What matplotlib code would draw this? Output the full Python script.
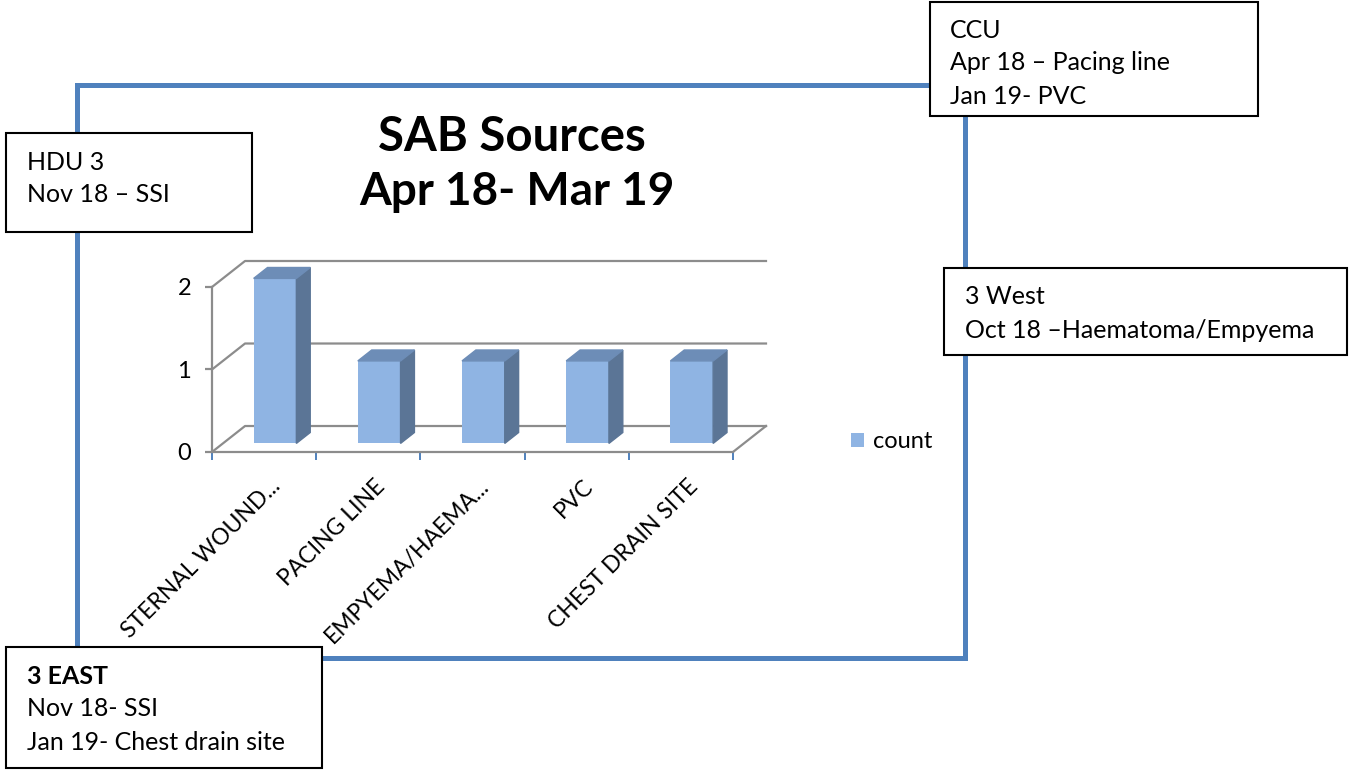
import matplotlib
matplotlib.use('Agg')
import matplotlib.pyplot as plt
from matplotlib.patches import Rectangle, Patch
from matplotlib.transforms import ScaledTranslation

# chart data
categories = ['STERNAL WOUND...', 'PACING LINE', 'EMPYEMA/HAEMA...', 'PVC', 'CHEST DRAIN SITE']
counts = [2, 1, 1, 1, 1]
y_ticks = [0, 1, 2]
series_name = 'count'
title_lines = ['SAB Sources', 'Apr 18- Mar 19']

# call-out boxes
notes_hdu = ['HDU 3', 'Nov 18 – SSI']
notes_ccu = ['CCU', 'Apr 18 – Pacing line', 'Jan 19- PVC']
notes_west = ['3 West', 'Oct 18 –Haematoma/Empyema']
notes_east = ['3 EAST', 'Nov 18- SSI', 'Jan 19- Chest drain site']

plt.rcParams['font.family'] = ['Lato', 'DejaVu Sans']

W, H = 1351, 772
FRONT, TOP, SIDE = '#8FB4E3', '#6D8DB7', '#5B7596'
GRID = '#8C8C8C'
BLUE = '#4F81BD'

fig = plt.figure(figsize=(W / 100, H / 100), dpi=100)


def fx(px):
    return px / W


def fy(py):
    return 1 - py / H


# outer blue frame
fig.add_artist(Rectangle((fx(77), fy(658)), fx(965) - fx(77), fy(85) - fy(658),
                         transform=fig.transFigure, fill=False, ec=BLUE, lw=3.6, zorder=1))

# pseudo 3d column chart
DX, DY = 0.317, 0.315      # depth offset in data units
F0, F1 = 0.33, 0.75        # bar front/back depth
BW = 0.41

ax = fig.add_axes([fx(212), fy(452), fx(766) - fx(212), fy(261) - fy(452)])
ax.set_xlim(-0.5, len(categories) - 0.5 + DX)
ax.set_ylim(0, max(y_ticks) + DY)
ax.patch.set_visible(False)

n = len(categories)
for v in y_ticks:
    ax.plot([-0.5, -0.5 + DX, n - 0.5 + DX], [v, v + DY, v + DY], color=GRID, lw=1.6,
            zorder=1, clip_on=False)
ax.plot([n - 0.5, n - 0.5 + DX], [0, DY], color=GRID, lw=1.6, zorder=1, clip_on=False)

for i, v in enumerate(counts):
    xl, xr = i - BW / 2, i + BW / 2
    ax.bar(i + F0 * DX, v, width=BW, bottom=F0 * DY, color=FRONT, zorder=2)
    ax.fill([xr + F0 * DX, xr + F1 * DX, xr + F1 * DX, xr + F0 * DX],
            [F0 * DY, F1 * DY, v + F1 * DY, v + F0 * DY], color=SIDE, zorder=2)
    ax.fill([xl + F0 * DX, xr + F0 * DX, xr + F1 * DX, xl + F1 * DX],
            [v + F0 * DY, v + F0 * DY, v + F1 * DY, v + F1 * DY], color=TOP, zorder=2)

for s in ['top', 'right']:
    ax.spines[s].set_visible(False)
ax.spines['left'].set_bounds(0, max(y_ticks))
ax.spines['bottom'].set_bounds(-0.5, n - 0.5)
for s in ['left', 'bottom']:
    ax.spines[s].set_color(GRID)
    ax.spines[s].set_linewidth(1.6)

ax.set_yticks(y_ticks)
ax.tick_params(axis='y', length=5, width=1.6, color=GRID, labelsize=17, pad=10)
ax.set_xticks(range(n))
ax.set_xticklabels(categories)
ax.set_xticks([i - 0.5 for i in range(n + 1)], minor=True)
ax.tick_params(axis='x', which='minor', length=6, width=1.4, color=BLUE)
ax.tick_params(axis='x', which='major', length=0, labelsize=16.5, pad=17, labelrotation=45)
shift = ScaledTranslation(6 / 100, 0, fig.dpi_scale_trans)
for lbl in ax.get_xticklabels():
    lbl.set_ha('right')
    lbl.set_rotation_mode('anchor')
    lbl.set_transform(lbl.get_transform() + shift)

fig.legend(handles=[Patch(facecolor=FRONT, label=series_name)], loc='center left',
           bbox_to_anchor=(fx(851), fy(442)), frameon=False, fontsize=17,
           handlelength=0.55, handleheight=0.55, handletextpad=0.4,
           borderaxespad=0, borderpad=0)

# title
fig.text(fx(512), fy(137), title_lines[0], ha='center', va='center', fontsize=34,
         fontweight='bold')
fig.text(fx(517), fy(192), title_lines[1], ha='center', va='center', fontsize=33,
         fontweight='bold')


def note_box(x0, y0, x1, y1, lines, tx, ty0, bold_first=False):
    fig.add_artist(Rectangle((fx(x0), fy(y1)), fx(x1) - fx(x0), fy(y0) - fy(y1),
                             transform=fig.transFigure, fc='white', ec='black',
                             lw=1.5, zorder=2))
    for k, line in enumerate(lines):
        fig.text(fx(tx), fy(ty0 + 33 * k), line, ha='left', va='center',
                 fontsize=18, zorder=3,
                 fontweight='bold' if (bold_first and k == 0) else 'normal')


note_box(6, 133, 252, 232, notes_hdu, 27, 162)
note_box(930, 2, 1258, 116, notes_ccu, 950, 30)
note_box(944, 268, 1347, 355, notes_west, 965, 297)
note_box(6, 647, 322, 768, notes_east, 27, 676, bold_first=True)

fig.savefig('out.png', dpi=100)
